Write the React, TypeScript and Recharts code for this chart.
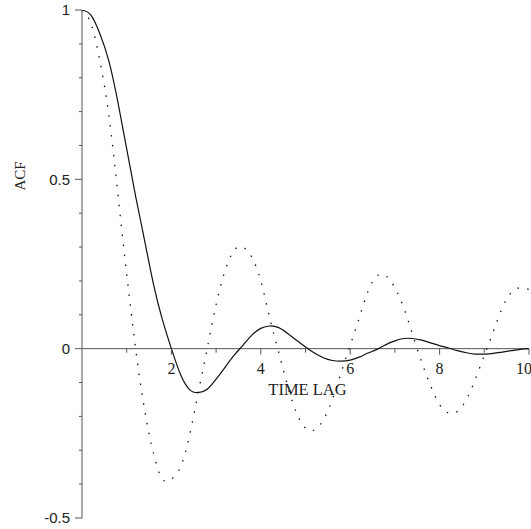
import { LineChart, Line, XAxis, YAxis, ReferenceLine } from 'recharts';

// lags sampled every 0.2
const lags = [
  0, 0.2, 0.4, 0.6, 0.8, 1, 1.2, 1.4, 1.6, 1.8, 2, 2.2, 2.4, 2.6, 2.8, 3, 3.2, 3.4, 3.6, 3.8, 4,
  4.2, 4.4, 4.6, 4.8, 5, 5.2, 5.4, 5.6, 5.8, 6, 6.2, 6.4, 6.6, 6.8, 7, 7.2, 7.4, 7.6, 7.8, 8,
  8.2, 8.4, 8.6, 8.8, 9, 9.2, 9.4, 9.6, 9.8, 10,
];

const solidAcf = [
  1, 0.985, 0.93, 0.85, 0.73, 0.59, 0.45, 0.32, 0.19, 0.085, 0, -0.075, -0.12, -0.13, -0.12,
  -0.09, -0.055, -0.02, 0.01, 0.04, 0.06, 0.067, 0.062, 0.045, 0.025, 0.005, -0.013, -0.027,
  -0.035, -0.037, -0.034, -0.025, -0.013, -0.002, 0.012, 0.023, 0.03, 0.03, 0.025, 0.017, 0.009,
  0.002, -0.006, -0.012, -0.016, -0.016, -0.014, -0.01, -0.006, -0.002, 0,
];

const dottedAcf = [
  1, 0.96, 0.85, 0.69, 0.46, 0.22, 0, -0.18, -0.31, -0.385, -0.385, -0.35, -0.26, -0.13, 0,
  0.13, 0.23, 0.29, 0.3, 0.27, 0.2, 0.09, -0.01, -0.11, -0.19, -0.235, -0.24, -0.21, -0.15,
  -0.07, 0.01, 0.09, 0.17, 0.215, 0.215, 0.18, 0.12, 0.04, -0.04, -0.11, -0.165, -0.19, -0.185,
  -0.15, -0.09, -0.02, 0.05, 0.12, 0.165, 0.18, 0.175,
];

const xTicks = [1, 2, 3, 4, 5, 6, 7, 8, 9, 10];
const yTicks = [-0.5, -0.4, -0.3, -0.2, -0.1, 0, 0.1, 0.2, 0.3, 0.4, 0.5, 0.6, 0.7, 0.8, 0.9, 1];
const yLabels: Record<string, string> = { '-0.5': '-0.5', '0': '0', '0.5': '0.5', '1': '1' };

const data = lags.map((t, i) => ({ t, solid: solidAcf[i], dotted: dottedAcf[i] }));

const W = 531;
const H = 529;
const M = { top: 10, right: 2, bottom: 0, left: 0 };
const X_AXIS_H = 11;
const Y_AXIS_W = 82;
const plotH = H - M.top - M.bottom - X_AXIS_H;
// pixel row of ACF = 0 inside the chart
const zeroY = M.top + (plotH * (1 - 0)) / 1.5;
const axisColor = '#555';
const serif = '"Liberation Serif", "Times New Roman", serif';
const sans = '"Liberation Sans", Arial, sans-serif';

function XTick(props: any) {
  const { x, payload } = props;
  const v = payload.value;
  const major = v % 2 === 0;
  const last = v === 10;
  return (
    <g>
      <line x1={x} x2={x} y1={zeroY} y2={zeroY + (major ? 6 : 4)} stroke={axisColor} />
      {major && (
        <text
          x={last ? x + 3 : x}
          y={zeroY + 25}
          textAnchor={last ? 'end' : 'middle'}
          fontFamily={serif}
          fontSize={16}
          fill="#222"
        >
          {v}
        </text>
      )}
    </g>
  );
}

function YTick(props: any) {
  const { x, y, payload } = props;
  const key = String(Math.round(payload.value * 10) / 10);
  const label = yLabels[key];
  return (
    <g>
      <line x1={x - (label ? 7 : 3)} x2={x} y1={y} y2={y} stroke={axisColor} />
      {label && (
        <text x={x - 12} y={y} dy="0.35em" textAnchor="end" fontFamily={sans} fontSize={15} fill="#222">
          {label}
        </text>
      )}
    </g>
  );
}

export default function App() {
  return (
    <div style={{ position: 'absolute', left: 0, top: 0 }}>
      <LineChart width={W} height={H} data={data} margin={M}>
        <XAxis
          dataKey="t"
          type="number"
          domain={[0, 10]}
          ticks={xTicks}
          axisLine={false}
          tickLine={false}
          tickSize={0}
          tickMargin={0}
          height={X_AXIS_H}
          tick={(p: any) => <XTick {...p} />}
          interval={0}
        />
        <YAxis
          type="number"
          domain={[-0.5, 1]}
          ticks={yTicks}
          allowDataOverflow
          width={Y_AXIS_W}
          axisLine={{ stroke: axisColor }}
          tickLine={false}
          tickSize={0}
          tickMargin={0}
          interval={0}
          tick={(p: any) => <YTick {...p} />}
          label={{
            content: () => (
              <text
                x={20}
                y={176}
                transform="rotate(-90 20 176)"
                textAnchor="middle"
                dy="0.35em"
                fontFamily={serif}
                fontSize={15}
                fill="#222"
              >
                ACF
              </text>
            ),
          }}
        />
        <ReferenceLine
          y={0}
          stroke={axisColor}
          label={{
            content: (p: any) => (
              <text
                x={p.viewBox.x + p.viewBox.width / 2 + 2}
                y={p.viewBox.y + 46}
                textAnchor="middle"
                fontFamily={serif}
                fontSize={16.5}
                fill="#222"
              >
                TIME LAG
              </text>
            ),
          }}
        />
        <Line
          type="natural"
          dataKey="dotted"
          stroke="#111"
          strokeWidth={1.3}
          strokeDasharray="1.5 8.5"
          dot={false}
          isAnimationActive={false}
        />
        <Line
          type="natural"
          dataKey="solid"
          stroke="#111"
          strokeWidth={1.2}
          dot={false}
          isAnimationActive={false}
        />
      </LineChart>
    </div>
  );
}
